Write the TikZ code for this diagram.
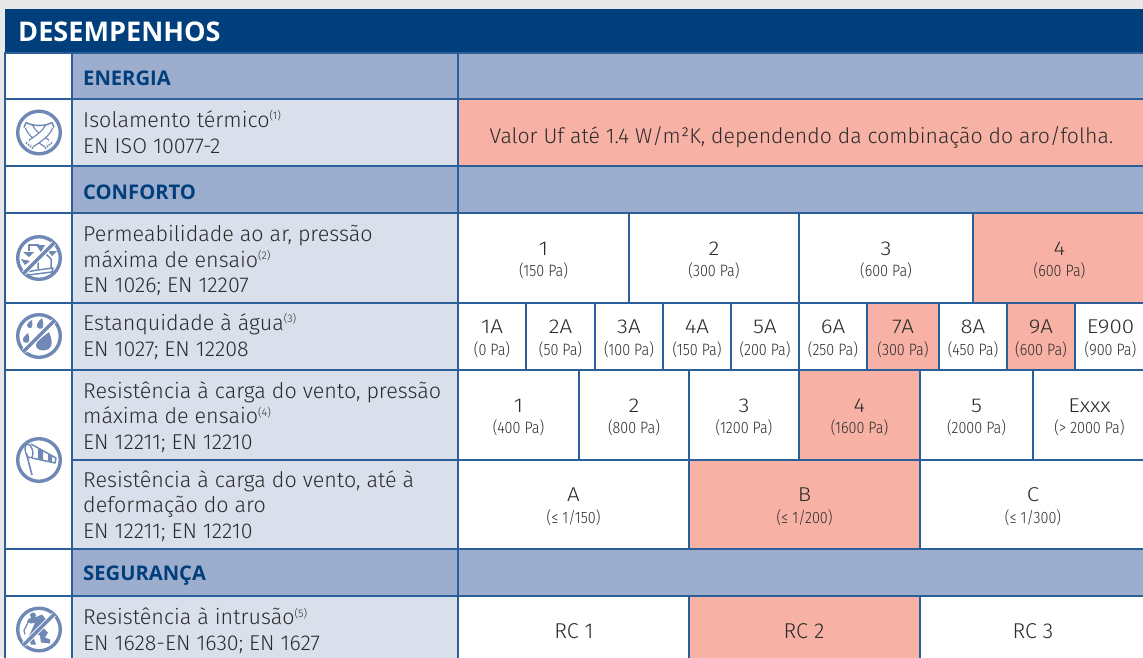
\documentclass[tikz,border=0pt]{standalone}
\usepackage{fontspec}
\setmainfont{Fira Sans Light}[Numbers=Proportional]
\newfontfamily\headfont{Open Sans}
\definecolor{bgc}{HTML}{E8E8E8}
\definecolor{headc}{HTML}{003E7C}
\definecolor{secc}{HTML}{9DADCD}
\definecolor{labc}{HTML}{D9E0EC}
\definecolor{salm}{HTML}{F7B2A5}
\definecolor{linec}{HTML}{2A5F9A}
\definecolor{iconc}{HTML}{7088B5}
\definecolor{txtc}{HTML}{2B2B2B}
\tikzset{
  cellbox/.style={draw=linec,line width=1.1pt,rectangle,inner sep=0pt,outer sep=0pt},
  bigtxt/.style={font=\fontsize{21.5}{25.6}\selectfont,text=txtc,align=left,anchor=west,inner sep=0pt},
  ctxt/.style={text=txtc,align=center,inner sep=0pt},
  sectxt/.style={font=\fontsize{20.2}{21}\selectfont\headfont\bfseries,text=headc,anchor=base west,inner sep=0pt},
  ring/.style={draw=iconc,line width=3.4pt},
  icoline/.style={draw=iconc,line width=1.5pt,line join=round},
  slashw/.style={draw=white,line width=5pt},
  slashb/.style={draw=iconc,line width=3.4pt},
}
\newcommand{\cbox}[6]{\node[cellbox,fill=#6,minimum width={(#4-#2)*1pt},minimum height={(#5-#3)*1pt}] (#1) at ({(#2+#4)/2},{(#3+#5)/2}) {};}
\newcommand{\two}[8]{\cbox{#1}{#2}{#3}{#4}{#5}{#6}%
 \node[ctxt,font=\fontsize{20}{22}\selectfont\addfontfeature{FakeStretch=1.12}] (#1a) at ([yshift=9.5pt]#1.center) {#7};%
 \node[ctxt,font=\fontsize{16.5}{18}\selectfont\addfontfeature{FakeStretch=0.87}] (#1b) at ([yshift=-13pt]#1.center) {#8};}
\newcommand{\sm}[1]{\textsuperscript{\fontsize{11}{11}\selectfont #1}}
\begin{document}
\begin{tikzpicture}[x=1pt,y=-1pt]
\useasboundingbox (0,0) rectangle (1143,657);
\clip (0,0) rectangle (1143,657);
\fill[bgc] (0,0) rectangle (1143,657);
\fill[headc] (5,9) rectangle (1145,53);
\node[font=\fontsize{27.1}{28}\selectfont\headfont\bfseries,text=white,anchor=base west,inner sep=0pt] (title) at (18,41.7) {DESEMPENHOS};
% left icon column
\cbox{i1}{5}{53}{72}{99}{white}
\cbox{i2}{5}{99}{72}{166}{white}
\cbox{i3}{5}{166}{72}{213}{white}
\cbox{i4}{5}{213}{72}{303}{white}
\cbox{i5}{5}{303}{72}{370}{white}
\cbox{i6}{5}{370}{72}{549}{white}
\cbox{i7}{5}{549}{72}{596}{white}
\cbox{i8}{5}{596}{72}{662}{white}
% label column
\cbox{l1}{72}{53}{458}{99}{secc}
\cbox{l2}{72}{99}{458}{166}{labc}
\cbox{l3}{72}{166}{458}{213}{secc}
\cbox{l4}{72}{213}{458}{303}{labc}
\cbox{l5}{72}{303}{458}{370}{labc}
\cbox{l6}{72}{370}{458}{460}{labc}
\cbox{l7}{72}{460}{458}{549}{labc}
\cbox{l8}{72}{549}{458}{596}{secc}
\cbox{l9}{72}{596}{458}{662}{labc}
\node[sectxt] (s1) at (83,85) {ENERGIA};
\node[sectxt] (s2) at (83,199) {CONFORTO};
\node[sectxt] (s3) at (83,580.7) {SEGURANÇA};
\node[bigtxt] (t2) at (83,132) {Isolamento térmico\sm{(1)}\\EN ISO 10077-2};
\node[bigtxt] (t4) at (83,260.5) {Permeabilidade ao ar, pressão\\máxima de ensaio\sm{(2)}\\EN 1026; EN 12207};
\node[bigtxt] (t5) at (83,336.5) {Estanquidade à água\sm{(3)}\\EN 1027; EN 12208};
\node[bigtxt] (t6) at (83,417) {Resistência à carga do vento, pressão\\máxima de ensaio\sm{(4)}\\EN 12211; EN 12210};
\node[bigtxt] (t7) at (83,506) {Resistência à carga do vento, até à\\deformação do aro\\EN 12211; EN 12210};
\node[bigtxt] (t9) at (83,631) {Resistência à intrusão\sm{(5)}\\EN 1628-EN 1630; EN 1627};
% right cells
\cbox{r1}{458}{53}{1146}{99}{secc}
\cbox{r2}{458}{99}{1146}{166}{salm}
\cbox{r3}{458}{166}{1146}{213}{secc}
\node[ctxt,font=\fontsize{21.25}{23}\selectfont] (r2t) at (801.5,137) {Valor Uf até 1.4 W/m²K, dependendo da combinação do aro/folha.};
\two{a1}{458}{213}{629}{303}{white}{1}{(150 Pa)}
\two{a2}{629}{213}{799}{303}{white}{2}{(300 Pa)}
\two{a3}{799}{213}{973}{303}{white}{3}{(600 Pa)}
\two{a4}{973}{213}{1146}{303}{salm}{4}{(600 Pa)}
\two{b1}{458}{303}{526}{370}{white}{1A}{(0 Pa)}
\two{b2}{526}{303}{595}{370}{white}{2A}{(50 Pa)}
\two{b3}{595}{303}{663}{370}{white}{3A}{(100 Pa)}
\two{b4}{663}{303}{731}{370}{white}{4A}{(150 Pa)}
\two{b5}{731}{303}{799}{370}{white}{5A}{(200 Pa)}
\two{b6}{799}{303}{867}{370}{white}{6A}{(250 Pa)}
\two{b7}{867}{303}{939}{370}{salm}{7A}{(300 Pa)}
\two{b8}{939}{303}{1007}{370}{white}{8A}{(450 Pa)}
\two{b9}{1007}{303}{1075}{370}{salm}{9A}{(600 Pa)}
\two{b10}{1075}{303}{1146}{370}{white}{E900}{(900 Pa)}
\two{c1}{458}{370}{579}{460}{white}{1}{(400 Pa)}
\two{c2}{579}{370}{689}{460}{white}{2}{(800 Pa)}
\two{c3}{689}{370}{799}{460}{white}{3}{(1200 Pa)}
\two{c4}{799}{370}{920}{460}{salm}{4}{(1600 Pa)}
\two{c5}{920}{370}{1033}{460}{white}{5}{(2000 Pa)}
\two{c6}{1033}{370}{1146}{460}{white}{Exxx}{(> 2000 Pa)}
\two{d1}{458}{460}{689}{549}{white}{A}{(≤ 1/150)}
\two{d2}{689}{460}{920}{549}{salm}{B}{(≤ 1/200)}
\two{d3}{920}{460}{1146}{549}{white}{C}{(≤ 1/300)}
\cbox{r8}{458}{549}{1146}{596}{secc}
\cbox{e1}{458}{596}{689}{662}{white}
\cbox{e2}{689}{596}{920}{662}{salm}
\cbox{e3}{920}{596}{1146}{662}{white}
\node[ctxt,font=\fontsize{21.5}{23}\selectfont] (e1t) at (574,631) {RC 1};
\node[ctxt,font=\fontsize{21.5}{23}\selectfont] (e2t) at (804,631) {RC 2};
\node[ctxt,font=\fontsize{21.5}{23}\selectfont] (e3t) at (1033,631) {RC 3};
% scarf icon
\begin{scope}[shift={(39,132.5)}]
\draw[ring] (0,0) circle (21.3);
\draw[iconc,line width=9pt] (-10,-6) .. controls (-8,0) and (0,6) .. (8,11);
\draw[white,line width=6.4pt] (-10,-6) .. controls (-8,0) and (0,6) .. (8,11);
\draw[iconc,line width=9pt] (10,-6) .. controls (8,0) and (0,6) .. (-8,11);
\draw[white,line width=6.4pt] (10,-6) .. controls (8,0) and (0,6) .. (-8,11);
\draw[icoline] (-13,-10) .. controls (-6,-6) and (6,-6) .. (13,-10);
\draw[icoline] (-13,-10) -- (-15,-5);
\draw[icoline] (13,-10) -- (15,-5);
\draw[iconc,line width=1.8pt,dash pattern=on 1.4pt off 1.2pt] (-13,10) -- (-6,16);
\draw[iconc,line width=1.8pt,dash pattern=on 1.4pt off 1.2pt] (6,16) -- (13,10);
\end{scope}
% air permeability icon
\begin{scope}[shift={(39,258)}]
\draw[ring] (0,0) circle (21.3);
\draw[icoline] (-1,11) -- (-1,1) -- (6,-5) -- (12,1) -- (12,11);
\draw[icoline] (-13,14) .. controls (-8,13) and (5,11) .. (14,10) -- (13,14) -- (-11,17) -- cycle;
\draw[icoline] (-10,-7) -- (-10,-13) -- (0,-13);
\fill[iconc] (-16,-6) -- (-5,-6) -- (-10,-1) -- cycle;
\fill[iconc] (-3,-13) -- (6,-13) -- (2,-6) -- cycle;
\fill[iconc] (9,-7) -- (18,-7) -- (13,-2) -- cycle;
\fill[iconc] (-18,1) -- (-9,3) -- (-14,7) -- cycle;
\draw[slashw] (-15,15) -- (15,-15);
\draw[slashb] (-15.2,15.2) -- (15.2,-15.2);
\end{scope}
% water icon
\begin{scope}[shift={(39,336)}]
\draw[ring] (0,0) circle (21.3);
\fill[iconc] (10,-4) .. controls (13,3) and (13,7) .. (12,10) .. controls (10,16) and (-3,16) .. (-3,9) .. controls (-3,5) and (4,1) .. (10,-4) -- cycle;
\fill[iconc] (3,-18) .. controls (4,-14) and (5,-11) .. (4,-9) .. controls (3,-6) and (-3,-7) .. (-2,-11) .. controls (-2,-13) and (1,-16) .. (3,-18) -- cycle;
\fill[iconc] (-7,-16) .. controls (-7,-13) and (-6,-11) .. (-7,-9) .. controls (-8,-7) and (-12,-8) .. (-12,-11) .. controls (-12,-13) and (-9,-15) .. (-7,-16) -- cycle;
\fill[iconc] (-11,-3) .. controls (-10,0) and (-9,3) .. (-10,5) .. controls (-11,8) and (-17,7) .. (-16,3) .. controls (-16,1) and (-13,-1) .. (-11,-3) -- cycle;
\draw[slashw] (-15,15) -- (15,-15);
\draw[slashb] (-15.2,15.2) -- (15.2,-15.2);
\end{scope}
% windsock icon
\begin{scope}[shift={(39,460)}]
\draw[ring] (0,0) circle (21.3);
\draw[iconc,line width=1.6pt] (-12.5,-6) -- (-7,15);
\draw[iconc,line width=1.4pt,rotate around={15:(-10,-9)}] (-10,-9) ellipse (3.6 and 7);
\draw[icoline] (-8,-16) -- (17,-2) -- (16,3) -- (-7,-2);
\fill[iconc] (-1,-12) -- (4,-9.5) -- (4,0) -- (-1,-1) -- cycle;
\fill[iconc] (9,-6.5) -- (13,-4) -- (13,2) -- (9,1) -- cycle;
\end{scope}
% intrusion icon
\begin{scope}[shift={(39,629.5)}]
\draw[ring] (0,0) circle (21.3);
\fill[iconc] (-6,-14) circle (3);
\fill[iconc] (-4,-12) -- (3,-15) -- (7,-10) -- (4,-2) -- (9,3) -- (6,8) -- (11,10) -- (11,14) -- (2,13) -- (1,6) -- (-3,4) -- (-5,9) -- (-3,15) -- (-8,15) -- (-11,8) -- (-7,0) -- (-4,-7) -- (-8,-6) -- (-12,-8) -- (-10,-11) -- cycle;
\draw[iconc,line width=1.2pt] (-10,-9) -- (-15,1) -- (-14,5);
\draw[slashw] (-15,15) -- (15,-15);
\draw[slashb] (-15.2,15.2) -- (15.2,-15.2);
\end{scope}
\end{tikzpicture}
\end{document}
